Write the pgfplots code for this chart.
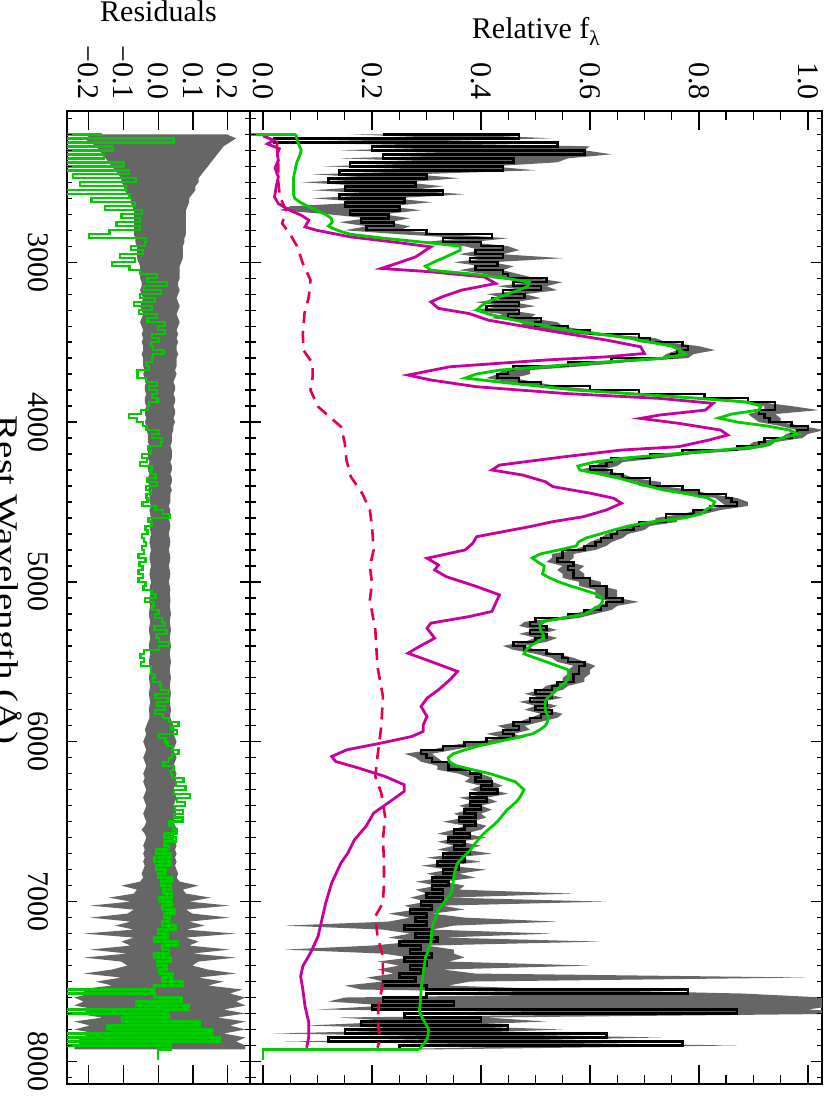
\documentclass[border=0pt]{standalone}
\usepackage{fontspec}
\setmainfont{Liberation Serif}
\usepackage{pgfplots}
\pgfplotsset{compat=1.18}
\usepackage{pgfplotstable}

\definecolor{mgreen}{RGB}{0,204,0}
\definecolor{mmag}{RGB}{200,0,160}
\definecolor{mred}{RGB}{232,0,64}
\definecolor{mgrey}{RGB}{102,102,102}

% lam = rest wavelength, m = model, f = observed, el/eh = lower/upper error, re = residual error
\pgfplotstableread{
lam m f el eh re
2200 0.060 0.22 0.06 0.14 0.21
2225 0.062 0.47 0.12 0.06 0.24
2250 0.064 0.02 0.02 0.20 0.22
2275 0.067 0.54 0.14 0.06 0.20
2300 0.070 0.20 0.06 0.39 0.19
2325 0.068 0.59 0.16 0.05 0.18
2350 0.065 0.22 0.08 0.34 0.17
2375 0.062 0.46 0.10 0.08 0.16
2400 0.060 0.16 0.05 0.26 0.15
2425 0.059 0.44 0.10 0.06 0.14
2450 0.057 0.14 0.05 0.14 0.13
2475 0.056 0.30 0.08 0.06 0.12
2500 0.056 0.12 0.05 0.14 0.12
2525 0.056 0.28 0.08 0.05 0.11
2550 0.056 0.15 0.06 0.12 0.11
2575 0.056 0.33 0.10 0.04 0.10
2600 0.058 0.14 0.05 0.10 0.09
2625 0.068 0.26 0.07 0.05 0.09
2650 0.082 0.15 0.10 0.08 0.085
2675 0.098 0.25 0.22 0.04 0.08
2700 0.114 0.16 0.04 0.06 0.08
2725 0.125 0.23 0.04 0.04 0.08
2750 0.127 0.18 0.04 0.05 0.08
2775 0.120 0.24 0.05 0.03 0.08
2800 0.136 0.19 0.04 0.06 0.08
2825 0.160 0.30 0.05 0.04 0.08
2850 0.222 0.42 0.05 0.03 0.075
2875 0.295 0.33 0.04 0.05 0.075
2900 0.362 0.40 0.03 0.05 0.07
2925 0.362 0.44 0.04 0.03 0.07
2950 0.346 0.39 0.03 0.05 0.07
2975 0.330 0.44 0.03 0.11 0.07
3000 0.313 0.38 0.03 0.04 0.065
3025 0.298 0.43 0.03 0.03 0.06
3050 0.308 0.39 0.03 0.05 0.06
3075 0.387 0.44 0.03 0.03 0.06
3100 0.446 0.45 0.03 0.05 0.06
3125 0.489 0.52 0.03 0.03 0.055
3150 0.486 0.46 0.03 0.06 0.055
3175 0.469 0.51 0.03 0.03 0.06
3200 0.448 0.44 0.03 0.04 0.055
3225 0.428 0.48 0.03 0.03 0.05
3250 0.411 0.42 0.03 0.04 0.055
3275 0.400 0.47 0.03 0.03 0.06
3300 0.392 0.41 0.03 0.04 0.055
3325 0.415 0.47 0.03 0.03 0.05
3350 0.445 0.45 0.03 0.04 0.055
3375 0.479 0.51 0.03 0.03 0.06
3400 0.520 0.50 0.03 0.05 0.055
3425 0.560 0.56 0.03 0.03 0.05
3450 0.620 0.60 0.02 0.03 0.055
3475 0.672 0.69 0.02 0.03 0.05
3500 0.711 0.71 0.02 0.03 0.055
3525 0.750 0.77 0.02 0.03 0.05
3550 0.766 0.78 0.02 0.05 0.05
3575 0.775 0.76 0.02 0.03 0.055
3600 0.735 0.75 0.02 0.03 0.05
3625 0.622 0.64 0.02 0.03 0.05
3650 0.526 0.56 0.02 0.03 0.05
3675 0.434 0.46 0.02 0.03 0.045
3700 0.391 0.45 0.02 0.04 0.05
3725 0.371 0.43 0.02 0.03 0.045
3750 0.435 0.47 0.02 0.03 0.04
3775 0.506 0.51 0.02 0.03 0.045
3800 0.574 0.60 0.02 0.02 0.045
3825 0.686 0.69 0.02 0.02 0.04
3850 0.792 0.81 0.02 0.02 0.045
3875 0.888 0.89 0.02 0.02 0.045
3900 0.914 0.94 0.02 0.03 0.04
3925 0.910 0.94 0.02 0.08 0.045
3950 0.860 0.91 0.02 0.03 0.045
3975 0.836 0.92 0.02 0.03 0.04
4000 0.870 0.93 0.02 0.02 0.045
4025 0.926 0.97 0.02 0.02 0.04
4050 0.966 1.00 0.02 0.03 0.04
4075 0.983 0.98 0.02 0.02 0.035
4100 0.952 0.97 0.02 0.02 0.035
4125 0.931 0.92 0.02 0.02 0.035
4150 0.919 0.91 0.02 0.02 0.03
4175 0.840 0.87 0.02 0.02 0.035
4200 0.750 0.77 0.02 0.02 0.035
4225 0.664 0.71 0.02 0.02 0.035
4250 0.608 0.64 0.02 0.02 0.03
4275 0.578 0.63 0.02 0.02 0.035
4300 0.581 0.60 0.02 0.02 0.035
4325 0.618 0.64 0.02 0.02 0.03
4350 0.652 0.66 0.02 0.02 0.035
4375 0.678 0.71 0.02 0.02 0.035
4400 0.706 0.71 0.02 0.02 0.03
4425 0.735 0.77 0.02 0.02 0.035
4450 0.780 0.80 0.02 0.02 0.03
4475 0.816 0.85 0.02 0.02 0.03
4500 0.829 0.86 0.02 0.03 0.03
4525 0.825 0.87 0.02 0.02 0.025
4550 0.812 0.82 0.02 0.02 0.03
4575 0.804 0.79 0.02 0.02 0.028
4600 0.773 0.74 0.02 0.02 0.025
4625 0.712 0.74 0.02 0.02 0.028
4650 0.671 0.69 0.02 0.02 0.03
4675 0.644 0.68 0.02 0.02 0.028
4700 0.619 0.65 0.02 0.02 0.025
4725 0.593 0.64 0.02 0.02 0.028
4750 0.579 0.62 0.02 0.02 0.03
4775 0.575 0.61 0.02 0.02 0.028
4800 0.543 0.59 0.02 0.02 0.025
4825 0.509 0.55 0.02 0.02 0.028
4850 0.494 0.55 0.02 0.02 0.03
4875 0.504 0.54 0.02 0.02 0.028
4900 0.516 0.57 0.02 0.02 0.025
4925 0.515 0.56 0.02 0.02 0.028
4950 0.513 0.57 0.02 0.02 0.03
4975 0.526 0.57 0.02 0.02 0.028
5000 0.543 0.60 0.02 0.02 0.025
5025 0.564 0.60 0.02 0.02 0.028
5050 0.588 0.63 0.02 0.02 0.03
5075 0.611 0.63 0.02 0.02 0.028
5100 0.622 0.63 0.02 0.02 0.03
5125 0.623 0.66 0.02 0.03 0.03
5150 0.617 0.63 0.02 0.02 0.028
5175 0.604 0.62 0.02 0.02 0.03
5200 0.591 0.59 0.02 0.02 0.032
5225 0.551 0.56 0.02 0.02 0.03
5250 0.511 0.50 0.02 0.02 0.028
5275 0.508 0.49 0.02 0.02 0.03
5300 0.509 0.52 0.02 0.02 0.032
5325 0.514 0.49 0.02 0.02 0.03
5350 0.515 0.52 0.02 0.02 0.028
5375 0.503 0.50 0.02 0.02 0.03
5400 0.491 0.46 0.02 0.02 0.032
5425 0.483 0.48 0.02 0.02 0.03
5450 0.479 0.52 0.02 0.02 0.028
5475 0.499 0.55 0.02 0.02 0.03
5500 0.520 0.56 0.02 0.03 0.032
5525 0.540 0.59 0.02 0.02 0.03
5550 0.560 0.58 0.02 0.02 0.028
5575 0.560 0.58 0.02 0.02 0.03
5600 0.560 0.57 0.02 0.02 0.032
5625 0.556 0.57 0.02 0.02 0.03
5650 0.547 0.54 0.02 0.02 0.028
5675 0.539 0.53 0.02 0.02 0.03
5700 0.531 0.50 0.02 0.02 0.032
5725 0.522 0.53 0.02 0.02 0.03
5750 0.518 0.49 0.02 0.02 0.028
5775 0.518 0.52 0.02 0.02 0.03
5800 0.518 0.50 0.02 0.02 0.032
5825 0.521 0.53 0.02 0.02 0.03
5850 0.524 0.51 0.02 0.03 0.03
5875 0.522 0.49 0.02 0.02 0.035
5900 0.518 0.46 0.03 0.02 0.04
5925 0.508 0.47 0.02 0.02 0.045
5950 0.495 0.44 0.03 0.02 0.04
5975 0.463 0.46 0.02 0.02 0.045
6000 0.431 0.41 0.02 0.02 0.05
6025 0.397 0.37 0.03 0.02 0.045
6050 0.371 0.33 0.02 0.02 0.04
6075 0.349 0.29 0.03 0.02 0.045
6100 0.340 0.30 0.02 0.02 0.05
6125 0.342 0.31 0.02 0.02 0.045
6150 0.355 0.34 0.02 0.02 0.04
6175 0.385 0.34 0.02 0.02 0.045
6200 0.417 0.38 0.02 0.02 0.05
6225 0.440 0.40 0.02 0.02 0.045
6250 0.463 0.39 0.02 0.03 0.05
6275 0.471 0.42 0.02 0.02 0.045
6300 0.479 0.40 0.02 0.02 0.04
6325 0.475 0.43 0.02 0.02 0.045
6350 0.471 0.38 0.02 0.03 0.05
6375 0.465 0.41 0.02 0.02 0.045
6400 0.457 0.38 0.02 0.02 0.04
6425 0.448 0.40 0.02 0.02 0.045
6450 0.442 0.37 0.02 0.03 0.05
6475 0.436 0.39 0.02 0.02 0.045
6500 0.430 0.36 0.03 0.02 0.04
6525 0.422 0.39 0.02 0.02 0.045
6550 0.413 0.37 0.02 0.03 0.055
6575 0.405 0.35 0.03 0.02 0.045
6600 0.398 0.38 0.02 0.03 0.04
6625 0.392 0.34 0.02 0.02 0.045
6650 0.386 0.37 0.02 0.03 0.05
6675 0.381 0.35 0.03 0.02 0.045
6700 0.374 0.38 0.02 0.04 0.05
6725 0.366 0.33 0.03 0.02 0.045
6750 0.359 0.37 0.02 0.03 0.05
6775 0.355 0.32 0.03 0.02 0.045
6800 0.353 0.36 0.02 0.05 0.05
6825 0.351 0.33 0.03 0.03 0.055
6850 0.350 0.35 0.02 0.04 0.05
6875 0.349 0.31 0.03 0.02 0.06
6900 0.348 0.34 0.02 0.03 0.12
6925 0.347 0.31 0.03 0.05 0.07
6950 0.345 0.33 0.03 0.24 0.08
6975 0.339 0.30 0.03 0.04 0.16
7000 0.333 0.33 0.03 0.30 0.09
7025 0.328 0.29 0.03 0.04 0.22
7050 0.322 0.31 0.03 0.06 0.08
7075 0.319 0.27 0.04 0.04 0.10
7100 0.317 0.30 0.03 0.07 0.22
7125 0.314 0.28 0.05 0.26 0.09
7150 0.311 0.30 0.26 0.05 0.14
7175 0.310 0.26 0.04 0.05 0.08
7200 0.309 0.31 0.04 0.22 0.24
7225 0.309 0.28 0.05 0.05 0.08
7250 0.308 0.32 0.04 0.30 0.12
7275 0.306 0.25 0.05 0.05 0.09
7300 0.303 0.29 0.25 0.06 0.22
7325 0.301 0.27 0.05 0.08 0.10
7350 0.298 0.31 0.04 0.06 0.24
7375 0.297 0.26 0.05 0.08 0.12
7400 0.296 0.30 0.05 0.30 0.10
7425 0.295 0.27 0.06 0.06 0.15
7450 0.294 0.29 0.05 0.10 0.24
7475 0.293 0.25 0.06 0.75 0.12
7500 0.292 0.28 0.06 0.10 0.20
7525 0.291 0.22 0.07 0.12 0.15
7550 0.290 0.30 0.12 0.25 0.26
7575 0.290 0.78 0.10 0.10 0.22
7600 0.289 0.30 0.15 0.73 0.27
7625 0.289 0.22 0.10 0.85 0.24
7650 0.288 0.35 0.12 0.70 0.27
7675 0.287 0.20 0.10 0.80 0.20
7700 0.288 0.87 0.10 0.25 0.27
7725 0.292 0.26 0.12 0.15 0.18
7750 0.296 0.40 0.15 0.12 0.27
7775 0.300 0.18 0.10 0.15 0.22
7800 0.304 0.45 0.12 0.10 0.27
7825 0.303 0.15 0.13 0.20 0.20
7850 0.302 0.63 0.15 0.10 0.27
7875 0.298 0.12 0.08 0.25 0.24
7900 0.292 0.77 0.20 0.10 0.27
7925 0.287 0.25 0.05 0.05 0.27
}\spec

% band outlines: the rows forward along the upper edge, then backward along the lower edge
\pgfplotstablesort[sort key=lam, sort cmp=float <]{\bandfwd}{\spec}
\pgfplotstablesort[sort key=lam, sort cmp=float >]{\bandbwd}{\spec}
\pgfplotstablecreatecol[create col/expr={\thisrow{f}+\thisrow{eh}}]{edge}{\bandfwd}
\pgfplotstablecreatecol[create col/expr={0.008+0.9*\thisrow{re}}]{redge}{\bandfwd}
\pgfplotstablecreatecol[create col/expr={\thisrow{f}-\thisrow{el}}]{edge}{\bandbwd}
\pgfplotstablecreatecol[create col/expr={0.002-0.9*\thisrow{re}}]{redge}{\bandbwd}
\pgfplotstablevertcat{\bandfwd}{\bandbwd}

\pgfplotsset{
  panel/.style={
    scale only axis, height=973bp,
    ymin=2054, ymax=8141, y dir=reverse,
    tick align=inside,
    axis line style={line width=1.6bp},
    tick style={line width=1.3bp, black},
    every tick label/.append style={font=\fontsize{30bp}{30bp}\selectfont, inner sep=0pt},
  },
  yticks/.style={
    panel, xtick=\empty, axis line style={draw=none},
    ytick={3000,4000,5000,6000,7000,8000},
    minor ytick={2100,2200,...,8100},
    ytick pos=both,
  },
}

\begin{document}
\begin{tikzpicture}[x=1bp,y=1bp]
\useasboundingbox (0,0) rectangle (830,1107);

% main panel
\begin{axis}[panel, at={(250bp,23bp)}, anchor=south west, width=572bp,
  xmin=-0.024, xmax=1.026,
  xtick={0,0.2,0.4,0.6,0.8,1.0},
  xticklabels={0.0,0.2,0.4,0.6,0.8,1.0},
  minor xtick={0.05,0.1,0.15,0.25,0.3,0.35,0.45,0.5,0.55,0.65,0.7,0.75,0.85,0.9,0.95},
  xtick pos=both, xticklabel pos=upper,
  xticklabel style={rotate=-90, anchor=east},
  xticklabel shift=11bp,
  major tick length=19bp, minor tick length=9.5bp,
  ytick=\empty]
  \addplot[fill=mgrey, draw=none] table[x=edge, y=lam] {\bandfwd};
  \addplot[black, line width=2.5bp, const plot] table[x=f, y=lam] {\spec};
  \addplot[mred, line width=2.6bp, dash pattern=on 12bp off 8bp] coordinates {
    (0.025,2240) (0.028,2400) (0.028,2500) (0.031,2592) (0.042,2675) (0.035,2758)
    (0.049,2821) (0.063,2904) (0.073,3008) (0.087,3112) (0.084,3216) (0.076,3321)
    (0.073,3446) (0.074,3550) (0.091,3633) (0.091,3717) (0.087,3800) (0.101,3904)
    (0.122,3967) (0.143,4029) (0.150,4133) (0.153,4237) (0.161,4342) (0.182,4446)
    (0.196,4550) (0.200,4654) (0.203,4800) (0.196,4904) (0.200,5008) (0.196,5112)
    (0.206,5300) (0.210,5529) (0.220,5717) (0.217,5904) (0.210,6092) (0.206,6217)
    (0.217,6321) (0.224,6467) (0.220,6612) (0.222,6750) (0.222,6883) (0.220,7008)
    (0.206,7092) (0.210,7217) (0.220,7342) (0.220,7508) (0.213,7633) (0.210,7737)
    (0.215,7862) (0.210,7914)};
  \addplot[mmag, line width=2.8bp] coordinates {
    (0.000,2210) (0.020,2237) (0.008,2260) (0.030,2290) (0.026,2320) (0.028,2362)
    (0.022,2410) (0.028,2467) (0.024,2530) (0.021,2592) (0.028,2633) (0.049,2675)
    (0.070,2706) (0.084,2737) (0.077,2779) (0.098,2800) (0.161,2842) (0.238,2873)
    (0.308,2904) (0.294,2935) (0.280,2967) (0.245,3008) (0.217,3039) (0.308,3060)
    (0.406,3092) (0.427,3133) (0.364,3175) (0.329,3216) (0.308,3248) (0.322,3289)
    (0.378,3321) (0.413,3362) (0.518,3425) (0.630,3487) (0.693,3529) (0.700,3571)
    (0.630,3592) (0.518,3612) (0.343,3654) (0.266,3706) (0.308,3737) (0.392,3779)
    (0.553,3821) (0.728,3852) (0.826,3883) (0.812,3925) (0.728,3956) (0.693,3977)
    (0.763,4008) (0.840,4050) (0.853,4081) (0.819,4112) (0.763,4154) (0.658,4175)
    (0.553,4217) (0.434,4269) (0.420,4300) (0.476,4331) (0.518,4373) (0.532,4404)
    (0.602,4446) (0.644,4477) (0.658,4508) (0.630,4550) (0.588,4592) (0.532,4623)
    (0.490,4654) (0.392,4717) (0.385,4758) (0.371,4800) (0.301,4852) (0.322,4894)
    (0.315,4925) (0.336,4967) (0.392,5029) (0.434,5081) (0.427,5133) (0.420,5185)
    (0.378,5217) (0.308,5258) (0.301,5290) (0.315,5352) (0.287,5404) (0.266,5446)
    (0.308,5498) (0.357,5560) (0.343,5612) (0.322,5675) (0.301,5727) (0.290,5779)
    (0.301,5842) (0.294,5894) (0.294,5935) (0.273,5967) (0.217,6008) (0.154,6050)
    (0.126,6092) (0.133,6123) (0.175,6164) (0.224,6217) (0.259,6269) (0.259,6310)
    (0.238,6362) (0.203,6446) (0.189,6529) (0.168,6612) (0.155,6700) (0.143,6758)
    (0.126,6883) (0.115,7008) (0.108,7112) (0.101,7217) (0.087,7321) (0.073,7404)
    (0.069,7467) (0.073,7550) (0.077,7654) (0.084,7758) (0.084,7842) (0.080,7914)};
  \addplot[mgreen, line width=2.8bp] coordinates {(-0.03,2200) (0.060,2200)};
  \addplot[mgreen, line width=2.8bp] table[x=m, y=lam] {\spec};
  \addplot[mgreen, line width=2.8bp] coordinates {(0.287,7925) (0,7925) (0,7990)};
\end{axis}
\begin{axis}[yticks, at={(250bp,23bp)}, anchor=south west, width=572bp,
  xmin=-0.024, xmax=1.026, yticklabels={},
  major tick length=11bp, minor tick length=5.5bp]
\end{axis}

% residual panel
\begin{axis}[panel, at={(67bp,23bp)}, anchor=south west, width=183bp,
  xmin=-0.262, xmax=0.264,
  xtick={-0.2,-0.1,0,0.1,0.2},
  xticklabels={−0.2,−0.1,0.0,0.1,0.2},
  xtick pos=both, xticklabel pos=upper,
  xticklabel style={rotate=-90, anchor=east},
  xticklabel shift=11bp,
  major tick length=19bp,
  ytick=\empty]
  \addplot[fill=mgrey, draw=none] table[x=redge, y=lam] {\bandfwd};
  \addplot[mgreen, line width=2.4bp, const plot] table[x expr=\thisrow{m}-\thisrow{f}, y=lam] {\spec};
  \addplot[mgreen, line width=2.4bp] coordinates {(0.04,7925) (0,7925) (0,7990)};
\end{axis}
\begin{axis}[yticks, at={(67bp,23bp)}, anchor=south west, width=183bp,
  xmin=-0.262, xmax=0.264,
  yticklabels={3000,4000,5000,6000,7000,8000},
  yticklabel pos=lower,
  yticklabel style={rotate=-90, anchor=north},
  yticklabel shift=18bp,
  major tick length=10bp, minor tick length=5bp]
\end{axis}

\node[anchor=base, inner sep=0pt, font=\fontsize{30bp}{30bp}\selectfont] at (536,1068) {Relative f\textsubscript{λ}};
\node[anchor=base, inner sep=0pt, font=\fontsize{30bp}{30bp}\selectfont] at (158.5,1085) {Residuals};
\begin{scope}
\clip (0,0) rectangle (830,1107);
\node[rotate=-90, anchor=base, inner sep=0pt, font=\fontsize{30bp}{30bp}\selectfont] at (-2,527) {\scalebox{1.3}[1]{Rest Wavelength (Å)}};
\end{scope}
\end{tikzpicture}
\end{document}
